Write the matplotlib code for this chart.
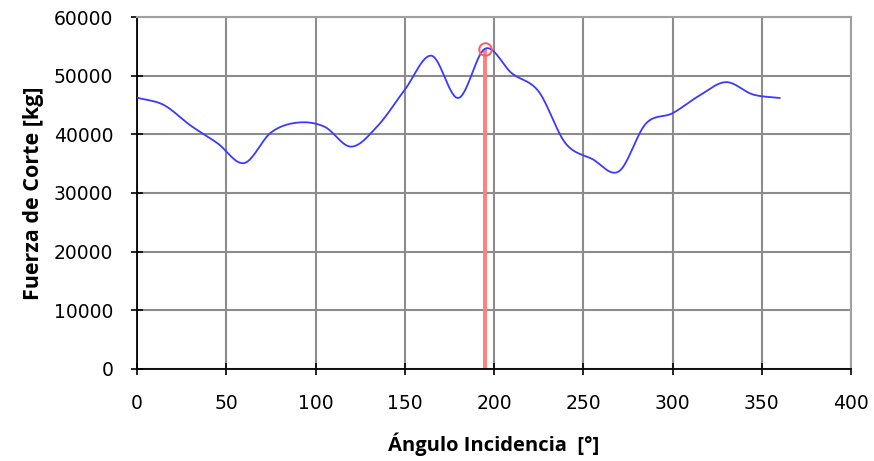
import numpy as np
import matplotlib
matplotlib.use("Agg")
import matplotlib.pyplot as plt

# Shear force vs. angle of incidence
angulos = [0, 15, 30, 45, 60, 75, 90, 105, 120, 135, 150, 165, 180,
           195, 210, 225, 240, 255, 270, 285, 300, 315, 330, 345, 360]
fuerza = [46250, 45000, 41500, 38500, 35100, 40300, 42000, 41300, 37900,
          41500, 47600, 53400, 46200, 54600, 50400, 47300, 38500, 35800,
          33700, 41800, 43600, 46600, 48900, 46800, 46200]

angulo_max = 195
fuerza_max = 54600


def catmull_rom(x, y, n=30):
    """Smooth curve through the points (Catmull-Rom spline)."""
    x = np.asarray(x, float)
    y = np.asarray(y, float)
    px = np.concatenate([[2 * x[0] - x[1]], x, [2 * x[-1] - x[-2]]])
    py = np.concatenate([[2 * y[0] - y[1]], y, [2 * y[-1] - y[-2]]])
    xs, ys = [], []
    t = np.linspace(0, 1, n, endpoint=False)
    for i in range(1, len(px) - 2):
        p0, p1, p2, p3 = (np.array([px[j], py[j]]) for j in range(i - 1, i + 3))
        tt = t[:, None]
        pts = 0.5 * ((2 * p1) + (-p0 + p2) * tt
                     + (2 * p0 - 5 * p1 + 4 * p2 - p3) * tt ** 2
                     + (-p0 + 3 * p1 - 3 * p2 + p3) * tt ** 3)
        xs.append(pts[:, 0])
        ys.append(pts[:, 1])
    xs.append([x[-1]])
    ys.append([y[-1]])
    return np.concatenate(xs), np.concatenate(ys)


fig = plt.figure(figsize=(8.74, 4.61), dpi=100)
ax = fig.add_axes([0.1568, 0.1996, 0.8169, 0.7635])

sx, sy = catmull_rom(angulos, fuerza)
ax.plot(sx, sy, color="#3a3aff", lw=1.3, zorder=3)

ax.plot([angulo_max, angulo_max], [0, fuerza_max], color="#ff8080", lw=2.8,
        zorder=2, solid_capstyle="butt")
ax.plot([angulo_max], [fuerza_max], marker="o", ms=9, mfc="none",
        mec="#ff5a5a", mew=1.4, zorder=4)

ax.set_xlim(0, 400)
ax.set_ylim(0, 60000)
ax.set_xticks(np.arange(0, 401, 50))
ax.set_yticks(np.arange(0, 60001, 10000))
ax.grid(True, color="#8c8c8c", lw=1.5)
ax.set_axisbelow(True)

for s in ("top", "right"):
    ax.spines[s].set_color("#a0a0a0")
    ax.spines[s].set_linewidth(1.5)
for s in ("left", "bottom"):
    ax.spines[s].set_color("black")
    ax.spines[s].set_linewidth(1.3)

ax.tick_params(axis="both", direction="inout", length=8, width=1.2,
               labelsize=13.5, colors="black")
ax.tick_params(axis="x", pad=14)
ax.tick_params(axis="y", pad=13)

ax.set_xlabel("Ángulo Incidencia  [°]", family="Open Sans", fontsize=14.5,
              fontweight="bold", labelpad=14)
ax.set_ylabel("Fuerza de Corte [kg]", family="Open Sans", fontsize=15.5,
              fontweight="bold", labelpad=7)

fig.savefig("out.png", dpi=100)
